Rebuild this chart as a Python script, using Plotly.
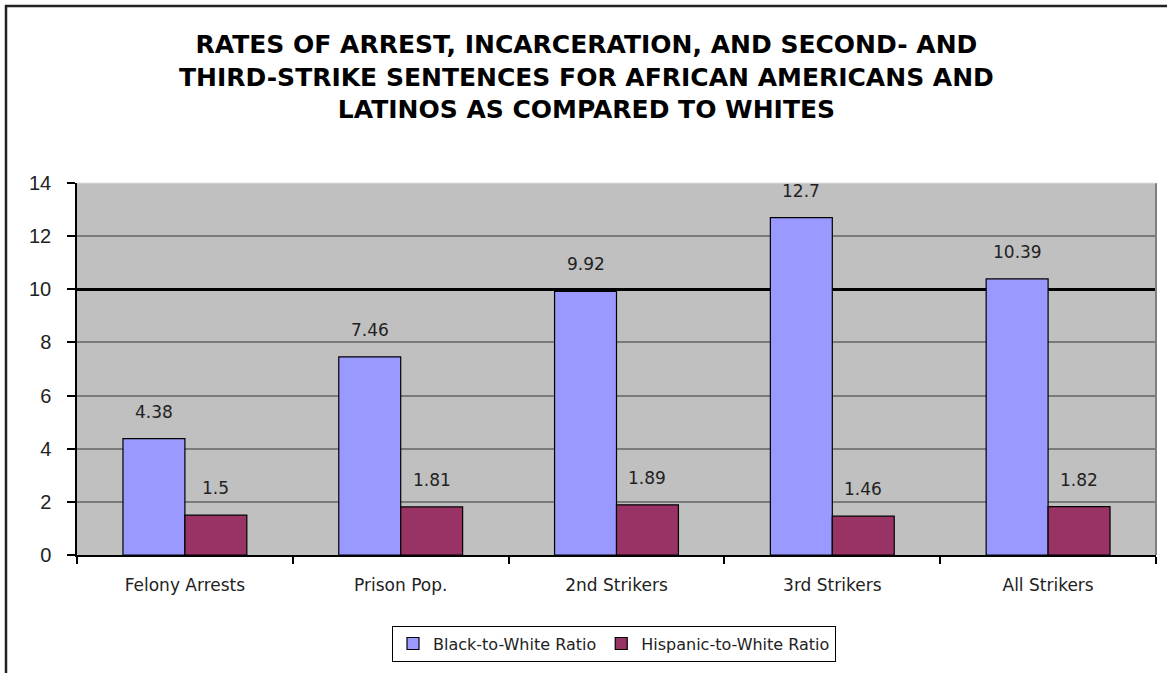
import plotly.graph_objects as go

categories = ["Felony Arrests", "Prison Pop.", "2nd Strikers", "3rd Strikers", "All Strikers"]
black_ratio = [4.38, 7.46, 9.92, 12.7, 10.39]
hispanic_ratio = [1.5, 1.81, 1.89, 1.46, 1.82]
black_labels = ["4.38", "7.46", "9.92", "12.7", "10.39"]
hispanic_labels = ["1.5", "1.81", "1.89", "1.46", "1.82"]
y_ticks = [0, 2, 4, 6, 8, 10, 12, 14]
emphasis_tick = [10]

W, H = 1167, 673
ML, MR, MT, MB = 77, 11, 183, 116
PW, PH = W - ML - MR, H - MT - MB
BARGAP = 0.426

def px_x(p):
    return (p - ML) / PW

def px_y(p):
    return (H - MB - p) / PH

FONT = "DejaVu Sans"

fig = go.Figure()
fig.add_trace(go.Bar(
    name="Black-to-White Ratio", x=categories, y=black_ratio,
    marker=dict(color="#9999ff", line=dict(color="#000000", width=1.2)),
))
fig.add_trace(go.Bar(
    name="Hispanic-to-White Ratio", x=categories, y=hispanic_ratio,
    marker=dict(color="#993366", line=dict(color="#000000", width=1.2)),
))
# empty helper trace so the overlaid axis (emphasised gridline at 10) is drawn
fig.add_trace(go.Scatter(x=[categories[0]], y=[None], yaxis="y2", mode="lines",
                         showlegend=False, hoverinfo="skip"))

off = (1 - BARGAP) / 4
annotations = []
for i, (bv, hv, bl, hl) in enumerate(zip(black_ratio, hispanic_ratio, black_labels, hispanic_labels)):
    annotations.append(dict(x=i - off, y=bv, text=bl, xref="x", yref="y", showarrow=False,
                            yanchor="bottom", yshift=15, font=dict(family=FONT, size=17, color="#222222")))
    annotations.append(dict(x=i + off, y=hv, text=hl, xref="x", yref="y", showarrow=False,
                            yanchor="bottom", yshift=15, font=dict(family=FONT, size=17, color="#222222")))

annotations.append(dict(
    text="RATES OF ARREST, INCARCERATION, AND SECOND- AND<br>THIRD-STRIKE SENTENCES FOR AFRICAN AMERICANS AND<br>LATINOS AS COMPARED TO WHITES",
    xref="paper", yref="paper", x=px_x(586), y=px_y(27), xanchor="center", yanchor="top",
    showarrow=False, align="center",
    font=dict(family="DejaVu Sans", size=25, color="#000000", weight="bold"),
))

shapes = [
    dict(type="line", xref="paper", yref="paper", x0=1, x1=1, y0=0, y1=1,
         line=dict(color="#808080", width=2)),
    dict(type="line", xref="paper", yref="paper", x0=0, x1=1, y0=1, y1=1,
         line=dict(color="#e0e0e0", width=1)),
    dict(type="line", xref="paper", yref="paper", x0=px_x(5), x1=px_x(1170), y0=px_y(5), y1=px_y(5),
         line=dict(color="#222222", width=2.5)),
    dict(type="line", xref="paper", yref="paper", x0=px_x(6), x1=px_x(6), y0=px_y(4), y1=px_y(680),
         line=dict(color="#222222", width=2.5)),
]

fig.update_layout(
    width=W, height=H,
    margin=dict(l=ML, r=MR, t=MT, b=MB),
    paper_bgcolor="#ffffff",
    plot_bgcolor="#c0c0c0",
    barmode="group", bargap=BARGAP, bargroupgap=0,
    xaxis=dict(
        type="category", showgrid=False, showline=True, linecolor="#000000", linewidth=1.5,
        ticks="outside", tickson="boundaries", ticklen=7, tickcolor="#000000", tickwidth=1.5,
        tickfont=dict(family=FONT, size=17, color="#222222"), zeroline=False,
        ticklabelstandoff=14,
    ),
    yaxis=dict(
        range=[0, 14], tickvals=y_ticks, showgrid=True, gridcolor="#7a7a7a", gridwidth=1.5,
        showline=True, linecolor="#000000", linewidth=1.5,
        ticks="outside", ticklen=8, tickcolor="#000000", tickwidth=1.5,
        tickfont=dict(family="Liberation Sans", size=20, color="#222222"), zeroline=False,
        ticklabelstandoff=12,
    ),
    yaxis2=dict(
        overlaying="y", range=[0, 14], tickvals=emphasis_tick, showgrid=True,
        gridcolor="#000000", gridwidth=2.5, showticklabels=False, ticks="",
        showline=False, zeroline=False,
    ),
    legend=dict(
        orientation="h", x=px_x(614), xanchor="center", y=px_y(628), yanchor="top",
        bordercolor="#000000", borderwidth=1, bgcolor="#ffffff",
        font=dict(family=FONT, size=16, color="#222222"),
        itemwidth=30, traceorder="normal", tracegroupgap=0,
    ),
    annotations=annotations,
    shapes=shapes,
    showlegend=True,
)

fig.write_html("out.html")
